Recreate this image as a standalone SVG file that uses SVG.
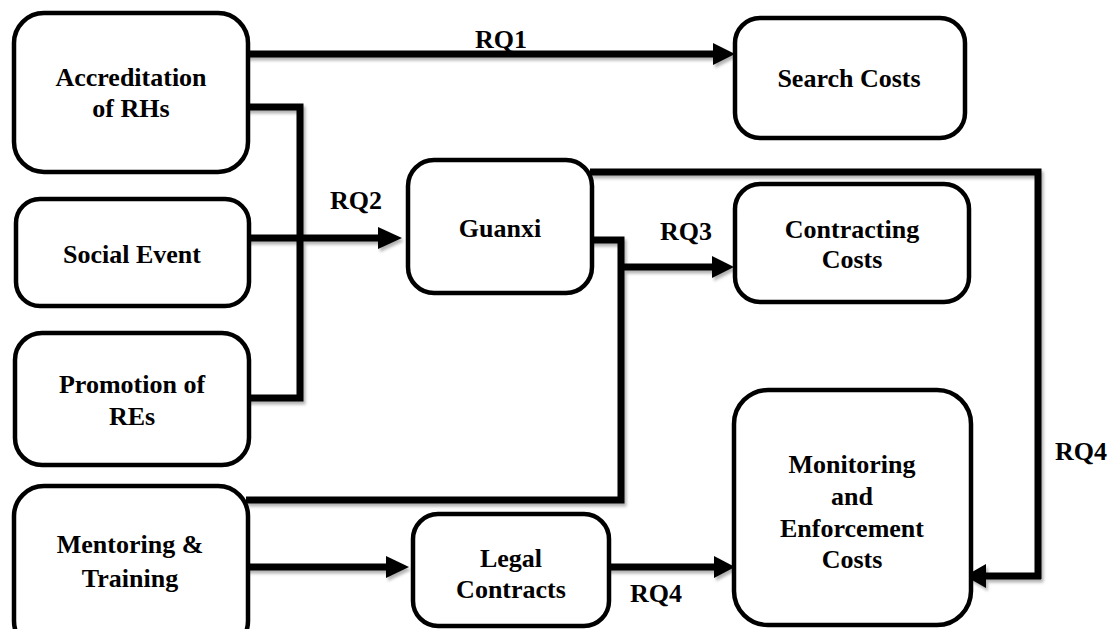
<svg xmlns="http://www.w3.org/2000/svg" width="1114" height="629" viewBox="0 0 1114 629">
  <style>
    .box { fill: #ffffff; stroke: #000000; stroke-width: 4.5; }
    .lbl { font-family: 'Liberation Serif', 'Times New Roman', Times, 'DejaVu Serif', serif; font-weight: 700; font-size: 26px; fill: #000000; text-anchor: middle; }
    .wire { fill: none; stroke: #000000; stroke-width: 7; stroke-linejoin: miter; stroke-linecap: butt; }
    .head { fill: #000000; stroke: none; }
  </style>
  <defs>
    <filter id="sh" x="-5%" y="-5%" width="110%" height="110%">
      <feDropShadow dx="2" dy="3" stdDeviation="1.5" flood-color="#000000" flood-opacity="0.3"/>
    </filter>
  </defs>
  <rect width="1114" height="629" fill="#ffffff"/>

  <g id="connectors" filter="url(#sh)">
    <!-- RQ1: Accreditation -> Search Costs -->
    <path class="wire" d="M246,54 H714"/>
    <polygon class="head" points="713,43 735,54 713,65"/>
    <!-- Accreditation & Promotion joining line -->
    <path class="wire" d="M246,107 H300 V398 H246"/>
    <!-- RQ2: Social Event -> Guanxi -->
    <path class="wire" d="M246,238 H380"/>
    <polygon class="head" points="378,227 402,238 378,249"/>
    <!-- Guanxi -> Mentoring loop with RQ3 branch -->
    <path class="wire" d="M590,240 H621 V500 H246"/>
    <path class="wire" d="M624,267 H714"/>
    <polygon class="head" points="712,256 734,267 712,278"/>
    <!-- Guanxi -> Monitoring (RQ4 right) -->
    <path class="wire" d="M590,172 H1038 V579"/>
    <path class="wire" d="M1041,576 H984"/>
    <polygon class="head" points="986,564 965,576 986,588"/>
    <!-- Mentoring -> Legal Contracts -->
    <path class="wire" d="M246,567 H388"/>
    <polygon class="head" points="386,556 409,567 386,578"/>
    <!-- Legal Contracts -> Monitoring (RQ4 bottom) -->
    <path class="wire" d="M607,567 H716"/>
    <polygon class="head" points="714,556 735,567 714,578"/>
  </g>

  <g id="node-accreditation">
    <rect class="box" x="14" y="13" width="234" height="159" rx="30" ry="30"/>
    <text class="lbl" x="131" y="86">Accreditation</text>
    <text class="lbl" x="131" y="117">of RHs</text>
  </g>
  <g id="node-social-event">
    <rect class="box" x="16" y="199" width="233" height="107" rx="24" ry="24"/>
    <text class="lbl" x="132" y="263">Social Event</text>
  </g>
  <g id="node-promotion">
    <rect class="box" x="15" y="333" width="234" height="132" rx="27" ry="27"/>
    <text class="lbl" x="132" y="393">Promotion of</text>
    <text class="lbl" x="132" y="425">REs</text>
  </g>
  <g id="node-mentoring">
    <rect class="box" x="14" y="486" width="234" height="165" rx="30" ry="30"/>
    <text class="lbl" x="130" y="553">Mentoring &amp;</text>
    <text class="lbl" x="130" y="587">Training</text>
  </g>
  <g id="node-guanxi">
    <rect class="box" x="408" y="160" width="184" height="133" rx="26" ry="26"/>
    <text class="lbl" x="500" y="237">Guanxi</text>
  </g>
  <g id="node-search">
    <rect class="box" x="735" y="18" width="230" height="120" rx="25" ry="25"/>
    <text class="lbl" x="849" y="87">Search Costs</text>
  </g>
  <g id="node-contracting">
    <rect class="box" x="735" y="184" width="234" height="118" rx="25" ry="25"/>
    <text class="lbl" x="852" y="238">Contracting</text>
    <text class="lbl" x="852" y="268">Costs</text>
  </g>
  <g id="node-legal">
    <rect class="box" x="413" y="514" width="196" height="112" rx="25" ry="25"/>
    <text class="lbl" x="511" y="567">Legal</text>
    <text class="lbl" x="511" y="598">Contracts</text>
  </g>
  <g id="node-monitoring">
    <rect class="box" x="734" y="390" width="237" height="235" rx="34" ry="34"/>
    <text class="lbl" x="852" y="473">Monitoring</text>
    <text class="lbl" x="852" y="505">and</text>
    <text class="lbl" x="852" y="537">Enforcement</text>
    <text class="lbl" x="852" y="568">Costs</text>
  </g>

  <g id="labels">
    <text class="lbl" x="501" y="48">RQ1</text>
    <text class="lbl" x="356" y="209">RQ2</text>
    <text class="lbl" x="686" y="240">RQ3</text>
    <text class="lbl" x="1081" y="460">RQ4</text>
    <text class="lbl" x="656" y="602">RQ4</text>
  </g>
</svg>
